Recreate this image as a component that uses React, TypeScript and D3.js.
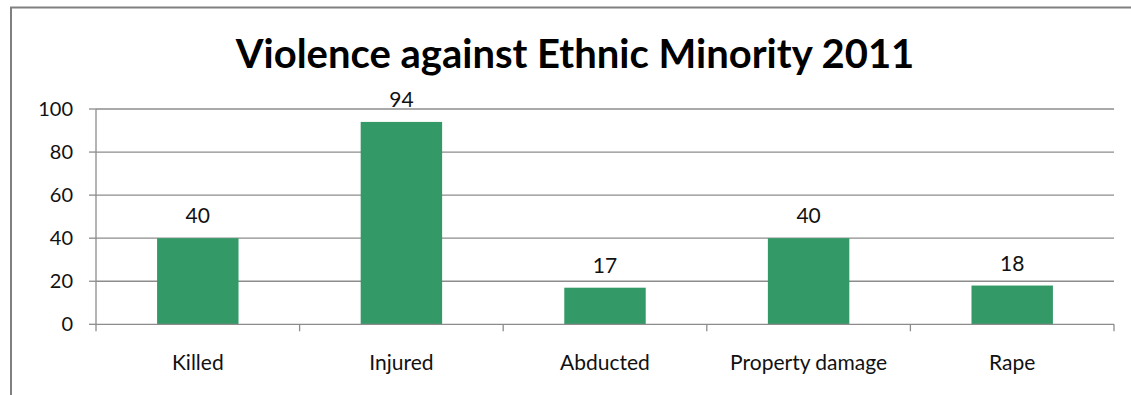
import React from "react";
import * as d3 from "d3";

const categories = ["Killed", "Injured", "Abducted", "Property damage", "Rape"];
const values = [40, 94, 17, 40, 18];
const yTicks = [0, 20, 40, 60, 80, 100];
const title = "Violence against Ethnic Minority 2011";

const W = 1131;
const H = 395;
const left = 96;
const right = 1114;
const top = 109;
const bottom = 324.3;
const FONT = "Lato, 'Open Sans', sans-serif";

export default function App() {
  const x = d3.scaleBand<string>().domain(categories).range([left, right]).padding(0);
  const y = d3.scaleLinear().domain([0, 100]).range([bottom, top]);
  const bw = x.bandwidth() * 0.4;
  const gridColor = "#8c8c8c";
  return (
    <svg
      width={W}
      height={H}
      style={{ position: "absolute", left: 0, top: 0, background: "#fff" }}
    >
      <rect x={11} y={7.5} width={W + 20} height={H + 20} fill="#fff" stroke="#808080" strokeWidth={2} />
      <text
        x={575}
        y={68}
        textAnchor="middle"
        fontFamily={FONT}
        fontWeight="bold"
        fontSize={40}
        fill="#000"
      >
        {title}
      </text>
      {yTicks.map((t) => (
        <g key={t}>
          {t > 0 && (
            <line x1={left} x2={right} y1={y(t)} y2={y(t)} stroke={gridColor} strokeWidth={1.3} />
          )}
          <line x1={left - 7} x2={left} y1={y(t)} y2={y(t)} stroke={gridColor} strokeWidth={1.3} />
          <text
            x={73}
            y={y(t)}
            dy="0.35em"
            textAnchor="end"
            fontFamily={FONT}
            fontSize={20}
            fill="#111"
          >
            {t}
          </text>
        </g>
      ))}
      <line x1={left} x2={left} y1={top} y2={bottom + 7} stroke={gridColor} strokeWidth={1.3} />
      {categories.map((c, i) => (
        <g key={c}>
          <rect
            x={(x(c) as number) + x.bandwidth() * 0.3}
            y={y(values[i])}
            width={bw}
            height={bottom - y(values[i])}
            fill="#339966"
          />
          <text
            x={(x(c) as number) + x.bandwidth() / 2}
            y={y(values[i]) - 15}
            textAnchor="middle"
            fontFamily={FONT}
            fontSize={21}
            fill="#111"
          >
            {values[i]}
          </text>
          <text
            x={(x(c) as number) + x.bandwidth() / 2}
            y={370}
            textAnchor="middle"
            fontFamily={FONT}
            fontSize={21}
            fill="#111"
          >
            {c}
          </text>
          <line
            x1={(x(c) as number) + x.bandwidth()}
            x2={(x(c) as number) + x.bandwidth()}
            y1={bottom}
            y2={bottom + 7}
            stroke={gridColor}
            strokeWidth={1.3}
          />
        </g>
      ))}
      <line x1={left} x2={right} y1={bottom} y2={bottom} stroke={gridColor} strokeWidth={1.3} />
    </svg>
  );
}
